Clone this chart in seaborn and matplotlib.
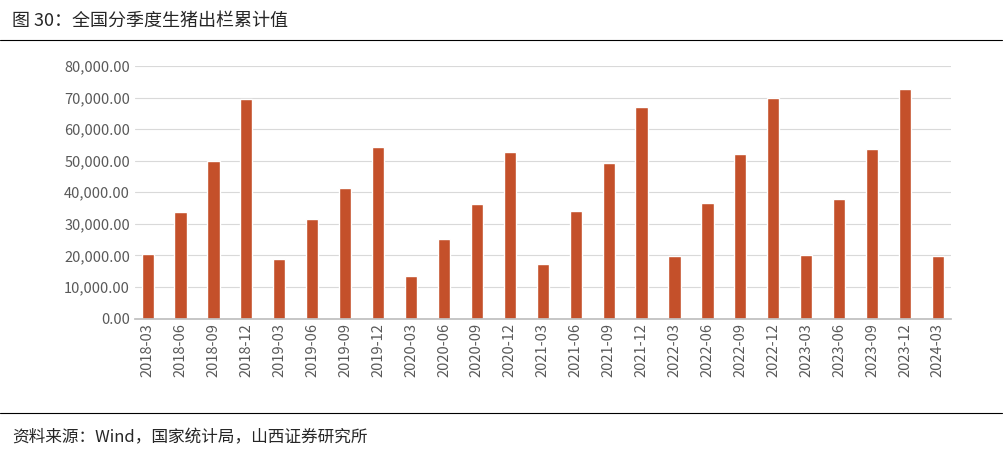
import matplotlib
matplotlib.use("Agg")
import matplotlib.pyplot as plt
import seaborn as sns
import pandas as pd
from matplotlib.ticker import FuncFormatter, MultipleLocator

categories = ["2018-03","2018-06","2018-09","2018-12","2019-03","2019-06","2019-09","2019-12",
              "2020-03","2020-06","2020-09","2020-12","2021-03","2021-06","2021-09","2021-12",
              "2022-03","2022-06","2022-09","2022-12","2023-03","2023-06","2023-09","2023-12","2024-03"]
values = [20300,33700,49800,69400,19000,31600,41200,54400,
          13400,25300,36300,52700,17400,33900,49300,67100,
          19800,36700,52000,69900,20100,37700,53800,72700,19700]

sns.set_theme(style="white")
plt.rcParams['font.family'] = ['Noto Sans CJK SC', 'DejaVu Sans']

df = pd.DataFrame({"q": categories, "v": values})
fig = plt.figure(figsize=(10.07, 4.55), dpi=100)
ax = fig.add_axes([0.134, 0.30, 0.81, 0.555])
sns.barplot(data=df, x="q", y="v", color="#C4502A", saturation=1, width=0.37, ax=ax)
ax.set_ylim(0, 80000)
ax.yaxis.set_major_locator(MultipleLocator(10000))
ax.yaxis.set_major_formatter(FuncFormatter(lambda v, p: f"{v:,.2f}"))
ax.set_xlabel(""); ax.set_ylabel("")
ax.grid(axis="y", color="#D9D9D9", linewidth=0.8)
ax.set_axisbelow(True)
for s in ["top", "right", "left"]:
    ax.spines[s].set_visible(False)
ax.spines["bottom"].set_color("#BFBFBF")
ax.tick_params(axis="x", rotation=90, labelsize=10.5, colors="#595959", length=0)
ax.tick_params(axis="y", labelsize=10.5, colors="#595959", length=0)
ax.set_xlim(-0.385, len(categories) - 1 + 0.385)

fig.text(0.012, 0.955, "图 30：全国分季度生猪出栏累计值", fontsize=13, va="center")
fig.add_artist(plt.Line2D([0.0, 0.995], [0.912, 0.912], color="black", linewidth=0.8))
fig.add_artist(plt.Line2D([0.0, 0.995], [0.092, 0.092], color="black", linewidth=0.8))
fig.text(0.012, 0.038, "资料来源：Wind，国家统计局，山西证券研究所", fontsize=12, va="center")
fig.savefig("out.png", dpi=100)
